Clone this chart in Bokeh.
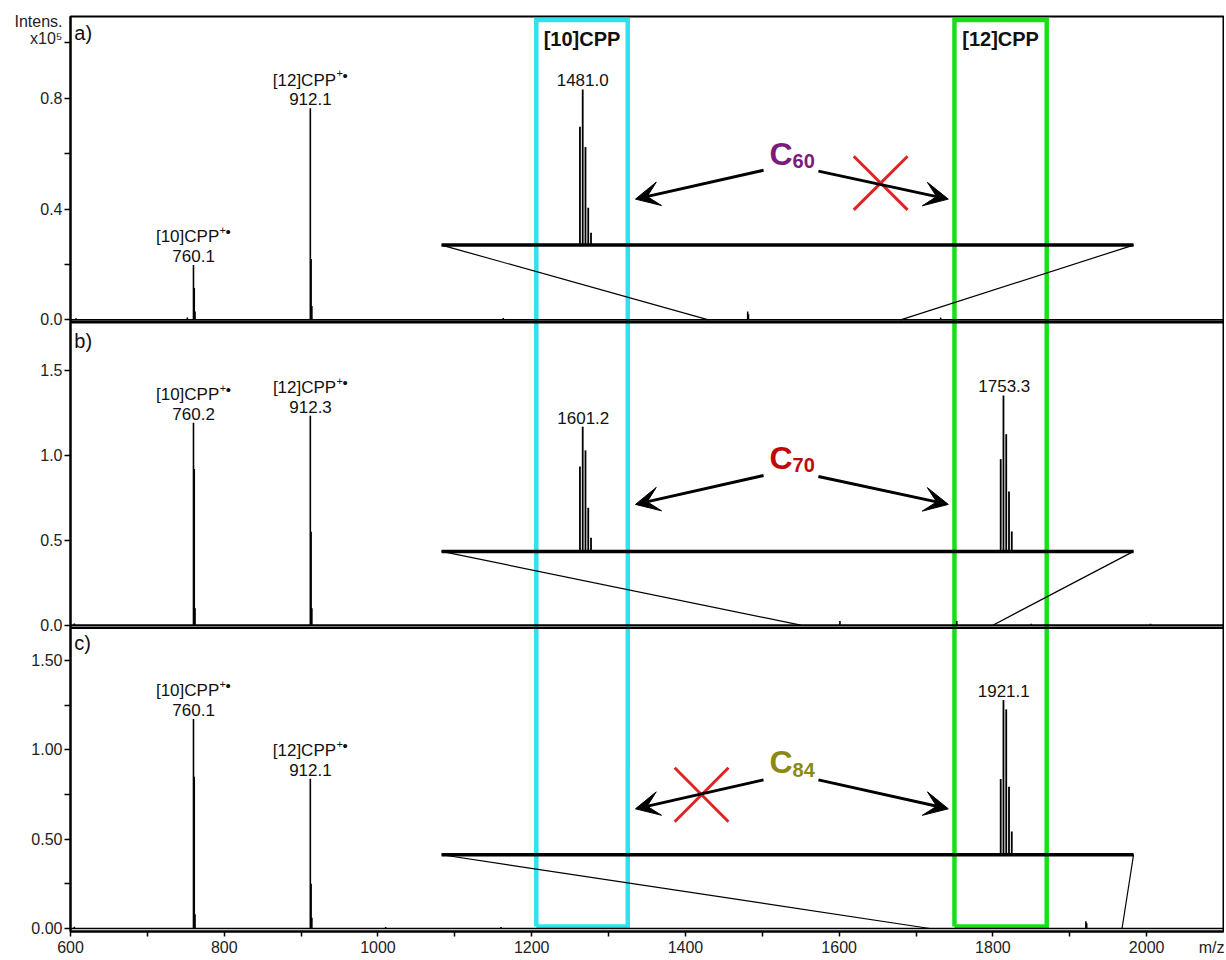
from bokeh.plotting import figure
from bokeh.models import Range1d, FixedTicker, PrintfTickFormatter, Arrow, VeeHead
from bokeh.core.properties import value
from bokeh.embed import file_html
from bokeh.resources import INLINE

FONTNAME = "Liberation Sans"
FONT = value(FONTNAME)

# ---------------- data ----------------
X_START, X_END = 600, 2100
X_TICKS = [600, 800, 1000, 1200, 1400, 1600, 1800, 2000]
X_MINOR = [600, 700, 800, 900, 1000, 1100, 1200, 1300, 1400, 1500, 1600, 1700, 1800, 1900, 2000]
X_UNIT_POS = 2085          # where the "m/z" unit sits on the x axis
X_UNIT = "m/z"

# main spectra (m/z, intensity x10^5)
a_mz = [607, 752, 760, 761, 762, 912, 913, 914, 1163, 1481, 1482, 1732]
a_int = [0.006, 0.008, 0.198, 0.115, 0.03, 0.764, 0.22, 0.05, 0.007, 0.03, 0.02, 0.008]
b_mz = [605, 760, 761, 762, 912, 913, 914, 1601, 1753, 1850, 2005]
b_int = [0.01, 1.194, 0.92, 0.1, 1.235, 0.55, 0.1, 0.025, 0.025, 0.008, 0.008]
c_mz = [605, 760, 761, 762, 912, 913, 914, 1010, 1160, 1921, 1922]
c_int = [0.01, 1.173, 0.85, 0.08, 0.838, 0.25, 0.06, 0.008, 0.008, 0.04, 0.03]

# peak annotations of the main spectra
a_lab_mz = [760.1, 912.1]
a_lab_int = [0.198, 0.764]
a_lab_num = ["760.1", "912.1"]
b_lab_mz = [760.2, 912.3]
b_lab_int = [1.194, 1.235]
b_lab_num = ["760.2", "912.3"]
c_lab_mz = [760.1, 912.1]
c_lab_int = [1.173, 0.838]
c_lab_num = ["760.1", "912.1"]
lab_names = ["[10]CPP", "[12]CPP"]

# zoomed insets (m/z, relative intensity)
a_in_mz = [1480, 1481, 1482, 1483, 1484]
a_in_rel = [0.76, 1.0, 0.63, 0.24, 0.08]
a_in_lab_mz = [1481.0]
a_in_lab_rel = [1.0]
a_in_lab = ["1481.0"]
b_in_mz = [1600, 1601, 1602, 1603, 1604, 1752, 1753, 1754, 1755, 1756]
b_in_rel = [0.68, 1.0, 0.81, 0.35, 0.11, 0.74, 1.25, 0.94, 0.48, 0.16]
b_in_lab_mz = [1601.2, 1753.3]
b_in_lab_rel = [1.0, 1.25]
b_in_lab = ["1601.2", "1753.3"]
c_in_mz = [1920, 1921, 1922, 1923, 1924]
c_in_rel = [0.49, 1.0, 0.94, 0.44, 0.15]
c_in_lab_mz = [1921.1]
c_in_lab_rel = [1.0]
c_in_lab = ["1921.1"]

# y ticks per panel
a_ticks = [0.0, 0.4, 0.8]
a_tick_lab = ["0.0", "0.4", "0.8"]
a_minor = [0.0, 0.2, 0.4, 0.6, 0.8, 1.0]
b_ticks = [0.0, 0.5, 1.0, 1.5]
b_tick_lab = ["0.0", "0.5", "1.0", "1.5"]
b_minor = [0.0, 0.5, 1.0, 1.5]
c_ticks = [0.0, 0.5, 1.0, 1.5]
c_tick_lab = ["0.00", "0.50", "1.00", "1.50"]
c_minor = [0.0, 0.25, 0.5, 0.75, 1.0, 1.25, 1.5]
Y_UNIT_LINES = ["Intens.", "x10\u2075"]

BOX10 = (1206, 1325)
BOX12 = (1750, 1870)
CYAN = "#2fe3ec"
GREEN = "#18e018"
RED = "#e02424"

# ---------------- layout constants ----------------
FRAME_H = 917                     # frame height in px (main y range is in px)
INSET_X0, INSET_X1 = 1082.7, 1983.0

panels = [
    dict(key="a", name="a)", z0=613, k=277.5, ticks=a_ticks, tlab=a_tick_lab, minor=a_minor,
         mz=a_mz, it=a_int, lmz=a_lab_mz, lint=a_lab_int, lnum=a_lab_num,
         ilo=1430, ihi=1680, ibase=0.270, igain=0.562,
         imz=a_in_mz, irel=a_in_rel, ilmz=a_in_lab_mz, ilrel=a_in_lab_rel, ilab=a_in_lab,
         name_y=1.016, c_sub="60", c_col="#7d1a7d", c_y=0.566, c_sub_y=0.551,
         arr=[(1501.6, 0.540, 1335, 0.436), (1573, 0.537, 1742, 0.436)],
         cross=(1654, 0.494, 35, 0.097)),
    dict(key="b", name="b)", z0=307, k=170.0, ticks=b_ticks, tlab=b_tick_lab, minor=b_minor,
         mz=b_mz, it=b_int, lmz=b_lab_mz, lint=b_lab_int, lnum=b_lab_num,
         ilo=1550, ihi=1800, ibase=0.435, igain=0.735,
         imz=b_in_mz, irel=b_in_rel, ilmz=b_in_lab_mz, ilrel=b_in_lab_rel, ilab=b_in_lab,
         name_y=1.641, c_sub="70", c_col="#c00808", c_y=0.929, c_sub_y=0.906,
         arr=[(1501.6, 0.882, 1335, 0.712), (1573, 0.876, 1742, 0.712)],
         cross=None),
    dict(key="c", name="c)", z0=3, k=179.0, ticks=c_ticks, tlab=c_tick_lab, minor=c_minor,
         mz=c_mz, it=c_int, lmz=c_lab_mz, lint=c_lab_int, lnum=c_lab_num,
         ilo=1718, ihi=1968, ibase=0.413, igain=0.866,
         imz=c_in_mz, irel=c_in_rel, ilmz=c_in_lab_mz, ilrel=c_in_lab_rel, ilab=c_in_lab,
         name_y=1.564, c_sub="84", c_col="#8a8a12", c_y=0.877, c_sub_y=0.855,
         arr=[(1501.6, 0.832, 1335, 0.670), (1573, 0.832, 1742, 0.670)],
         cross=(1421, 0.749, 35, 0.151)),
]
SEPARATORS = [610.5, 304.5]
Y_UNIT_POS = [912, 895]
BOX_TOP, BOX_BOT = 913.5, 5
LIFT = 0.3   # raise texts by this fraction of their font size

p = figure(width=1224, height=958, x_range=Range1d(X_START, X_END), y_range=Range1d(0, FRAME_H),
           output_backend="svg", toolbar_location=None,
           min_border_left=70, min_border_right=1, min_border_top=16, min_border_bottom=25)
p.grid.visible = False
p.outline_line_color = "black"
p.outline_line_width = 2

# ---- y axis: labels at major ticks (marks hidden), marks drawn as minor ticks ----
major_pos, overrides, minor_pos = [], {}, []
for s in panels:
    for v, lab in zip(s["ticks"], s["tlab"]):
        pos = round(s["z0"] + v * s["k"], 2)
        major_pos.append(pos)
        overrides[pos] = lab
    for v in s["minor"]:
        minor_pos.append(round(s["z0"] + v * s["k"], 2))
for pos, lab in zip(Y_UNIT_POS, Y_UNIT_LINES):
    major_pos.append(float(pos))
    overrides[float(pos)] = lab
ya = p.yaxis[0]
ya.ticker = FixedTicker(ticks=major_pos, minor_ticks=minor_pos)
ya.major_label_overrides = overrides
ya.major_tick_line_color = None
ya.major_tick_out = 6
ya.minor_tick_out = 6
ya.minor_tick_in = 0
ya.minor_tick_line_width = 1.5
ya.axis_line_width = 2
ya.major_label_text_font = FONTNAME
ya.major_label_text_font_size = "16px"
ya.major_label_text_color = "#222222"
ya.major_label_standoff = 2

xa = p.xaxis[0]
xa.ticker = FixedTicker(ticks=X_TICKS + [X_UNIT_POS], minor_ticks=X_MINOR)
xa.formatter = PrintfTickFormatter(format="%d")
xa.major_label_overrides = {X_UNIT_POS: X_UNIT}
xa.major_tick_line_color = None
xa.major_tick_out = 5
xa.minor_tick_out = 5
xa.minor_tick_in = 0
xa.minor_tick_line_width = 1.5
xa.axis_line_width = 2
xa.major_label_text_font = FONTNAME
xa.major_label_text_font_size = "16px"
xa.major_label_text_color = "#222222"
xa.major_label_standoff = 2

# ---- coloured boxes spanning the three panels ----
for (x0, x1), col in ((BOX10, CYAN), (BOX12, GREEN)):
    p.line([x0, x0, x1, x1, x0], [BOX_BOT, BOX_TOP, BOX_TOP, BOX_BOT, BOX_BOT],
           line_color=col, line_width=4.5, line_join="miter")

# ---- panel separators ----
for ysep in SEPARATORS:
    p.line([X_START, X_END], [ysep, ysep], line_color="black", line_width=2.5)

extra_y, extra_x = {}, {}
for s in panels:
    z0, k = s["z0"], s["k"]
    ps, pe = -z0 / k, (FRAME_H - z0) / k
    pr = "p" + s["key"]
    ir_x, ir_y = "ix" + s["key"], "iy" + s["key"]
    extra_y[pr] = Range1d(ps, pe)
    lo, hi = s["ilo"], s["ihi"]
    sc = (hi - lo) / (INSET_X1 - INSET_X0)
    extra_x[ir_x] = Range1d(lo + (X_START - INSET_X0) * sc, lo + (X_END - INSET_X0) * sc)
    extra_y[ir_y] = Range1d((ps - s["ibase"]) / s["igain"], (pe - s["ibase"]) / s["igain"])
p.extra_y_ranges = extra_y
p.extra_x_ranges = extra_x


def lift(fs, extra=0):
    return extra - LIFT * fs


for s in panels:
    pr = "p" + s["key"]
    ir_x, ir_y = "ix" + s["key"], "iy" + s["key"]
    lo, hi = s["ilo"], s["ihi"]

    # main spectrum
    p.line([X_START, X_END], [0, 0], y_range_name=pr, line_color="black", line_width=1.6)
    p.segment(s["mz"], [0] * len(s["mz"]), s["mz"], s["it"], y_range_name=pr,
              line_color="black", line_width=1.6)

    # main peak labels
    p.text(s["lmz"], s["lint"], text=s["lnum"], y_range_name=pr, text_align="center",
           text_baseline="alphabetic", y_offset=lift(17, -4), text_font=FONT, text_font_size="17px",
           text_color="#111111")
    p.text(s["lmz"], s["lint"], text=lab_names, y_range_name=pr, text_align="center",
           text_baseline="alphabetic", x_offset=-6, y_offset=lift(17, -23), text_font=FONT,
           text_font_size="17px", text_color="#111111")
    p.text(s["lmz"], s["lint"], text=["+"] * 2, y_range_name=pr, text_align="left",
           text_baseline="alphabetic", x_offset=26, y_offset=lift(17, -30), text_font=FONT,
           text_font_size="11px", text_color="#111111")
    p.text(s["lmz"], s["lint"], text=["\u2022"] * 2, y_range_name=pr, text_align="left",
           text_baseline="alphabetic", x_offset=32, y_offset=lift(17, -28), text_font=FONT,
           text_font_size="15px", text_color="#111111")

    # connectors from the inset ends to the zoomed window on the axis
    p.segment([INSET_X0, INSET_X1], [s["ibase"]] * 2, [lo, hi], [0, 0], y_range_name=pr,
              line_color="black", line_width=1.2)

    # inset spectrum
    p.line([lo, hi], [0, 0], x_range_name=ir_x, y_range_name=ir_y, line_color="black", line_width=3.5)
    p.segment(s["imz"], [0] * len(s["imz"]), s["imz"], s["irel"], x_range_name=ir_x, y_range_name=ir_y,
              line_color="black", line_width=1.8)
    p.text(s["ilmz"], s["ilrel"], text=s["ilab"], x_range_name=ir_x, y_range_name=ir_y,
           text_align="center", text_baseline="alphabetic", y_offset=lift(17, -4),
           text_font=FONT, text_font_size="17px", text_color="#111111")

    # panel letter
    p.text([605], [s["name_y"]], text=[s["name"]], y_range_name=pr, text_align="left",
           text_baseline="alphabetic", y_offset=lift(20), text_font=FONT, text_font_size="20px",
           text_color="#111111")

    # fullerene label + arrows
    p.text([1509.4], [s["c_y"]], text=["C"], y_range_name=pr, text_align="left",
           text_baseline="alphabetic", y_offset=lift(32), text_font=FONT, text_font_size="32px",
           text_font_style="bold", text_color=s["c_col"])
    p.text([1539.4], [s["c_sub_y"]], text=[s["c_sub"]], y_range_name=pr, text_align="left",
           text_baseline="alphabetic", y_offset=lift(20), text_font=FONT, text_font_size="20px",
           text_font_style="bold", text_color=s["c_col"])
    for (x0, y0, x1, y1) in s["arr"]:
        p.add_layout(Arrow(end=VeeHead(size=24, fill_color="black", line_color="black", line_width=1),
                           x_start=x0, y_start=y0, x_end=x1, y_end=y1, y_range_name=pr,
                           line_color="black", line_width=3))

    if s["cross"] is not None:
        cx, cy, dx, dy = s["cross"]
        p.segment([cx - dx, cx - dx], [cy - dy, cy + dy], [cx + dx, cx + dx], [cy + dy, cy - dy],
                  y_range_name=pr, line_color=RED, line_width=3)

# box titles (panel a)
p.text([sum(BOX10) / 2, sum(BOX12) / 2], [0.991, 0.991], text=["[10]CPP", "[12]CPP"], y_range_name="pa",
       text_align="center", text_baseline="alphabetic", y_offset=lift(20), text_font=FONT,
       text_font_size="20px", text_font_style="bold", text_color="#111111")

open("out.html", "w").write(file_html(p, INLINE))
